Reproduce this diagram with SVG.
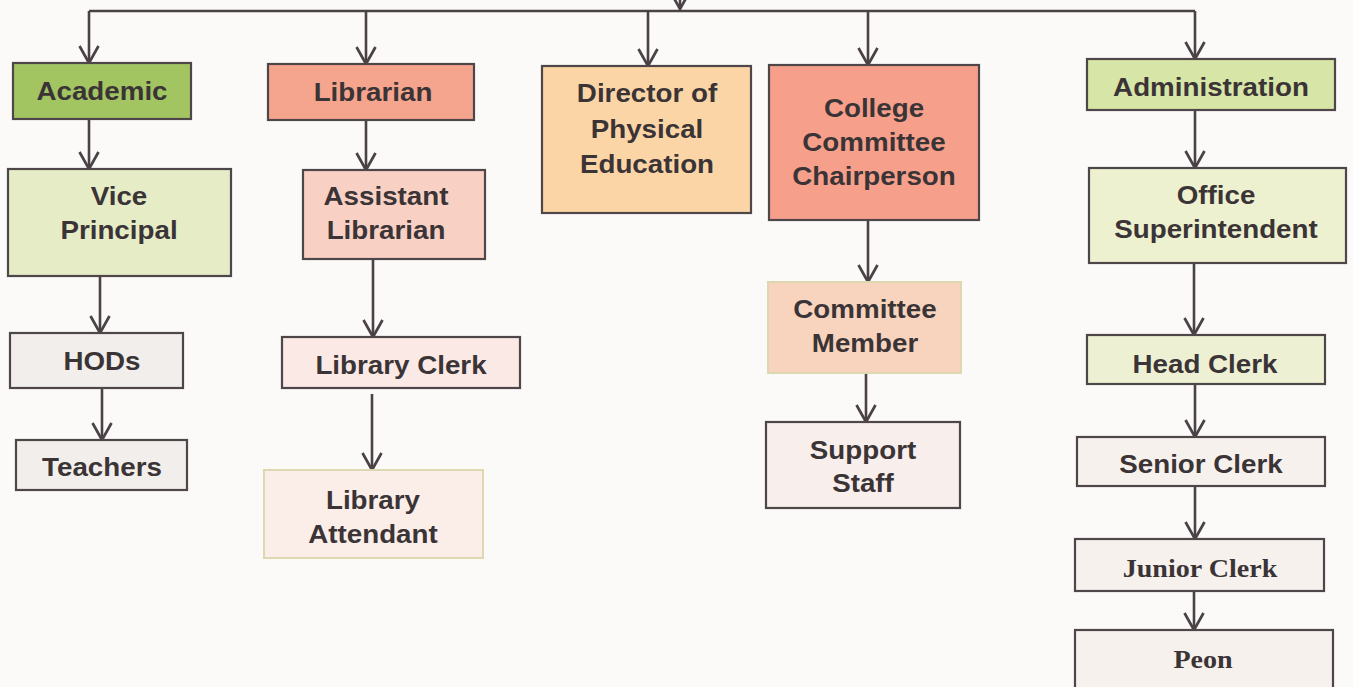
<svg xmlns="http://www.w3.org/2000/svg" width="1353" height="687" viewBox="0 0 1353 687">
<defs>
<marker id="arr" markerUnits="userSpaceOnUse" markerWidth="26" markerHeight="26" viewBox="-20 -13 22 26" refX="0" refY="0" orient="auto">
<path d="M-17,-9.5 L0,0 L-17,9.5" fill="none" stroke="#4a4245" stroke-width="2.7" stroke-linejoin="miter"/>
</marker>
</defs>
<style>
.bx{stroke:#4e4648;stroke-width:2.2}
.lt{stroke:#ddd8b0;stroke-width:2}
.t{font-family:"Liberation Sans",Arial,sans-serif;font-weight:bold;font-size:25px;fill:#3b3436;text-anchor:middle}
.s{font-family:"Liberation Serif","Times New Roman",serif;font-weight:bold;font-size:26px;fill:#3b3436;text-anchor:middle}
.c{fill:none;stroke:#4a4245;stroke-width:2.6}
.a{fill:none;stroke:#4a4245;stroke-width:2.6;marker-end:url(#arr)}
</style>
<rect width="1353" height="687" fill="#fbfaf9"/>
<g id="connectors">
<path class="c" d="M89,11 H1195"/>
<path class="a" d="M680,-10 V9"/>
<path class="a" d="M89,11 V63"/>
<path class="a" d="M366,11 V64"/>
<path class="a" d="M648,11 V66"/>
<path class="a" d="M868,11 V65"/>
<path class="a" d="M1195,11 V59"/>
<path class="a" d="M89,119 V169"/>
<path class="a" d="M366,120 V170"/>
<path class="a" d="M100,276 V333"/>
<path class="a" d="M102,388 V440"/>
<path class="a" d="M373,259 V337"/>
<path class="a" d="M372,394 V470"/>
<path class="a" d="M868,220 V282"/>
<path class="a" d="M866,373 V422"/>
<path class="a" d="M1195,110 V168"/>
<path class="a" d="M1194,263 V335"/>
<path class="a" d="M1195,384 V437"/>
<path class="a" d="M1195,486 V539"/>
<path class="a" d="M1194,591 V630"/>
</g>
<g id="academic">
<rect class="bx" x="13" y="63" width="178" height="56" fill="#a2c562"/>
<text class="t" transform="translate(102 0) scale(1.11 1)" y="100">Academic</text>
</g>
<g id="librarian">
<rect class="bx" x="268" y="64" width="206" height="56" fill="#f5a48d"/>
<text class="t" transform="translate(373 0) scale(1.11 1)" y="101">Librarian</text>
</g>
<g id="director">
<rect class="bx" x="542" y="66" width="209" height="147" fill="#fcd5a6"/>
<text class="t" transform="translate(647 0) scale(1.11 1)"><tspan x="0" y="102">Director of</tspan><tspan x="0" y="138">Physical</tspan><tspan x="0" y="173">Education</tspan></text>
</g>
<g id="college">
<rect class="bx" x="769" y="65" width="210" height="155" fill="#f6a08b"/>
<text class="t" transform="translate(874 0) scale(1.11 1)"><tspan x="0" y="117">College</tspan><tspan x="0" y="151">Committee</tspan><tspan x="0" y="185">Chairperson</tspan></text>
</g>
<g id="administration">
<rect class="bx" x="1087" y="59" width="248" height="51" fill="#d7e5a6"/>
<text class="t" transform="translate(1211 0) scale(1.11 1)" y="96">Administration</text>
</g>
<g id="vice-principal">
<rect class="bx" x="8" y="169" width="223" height="107" fill="#e5ecc6"/>
<text class="t" transform="translate(119 0) scale(1.11 1)"><tspan x="0" y="205">Vice</tspan><tspan x="0" y="239">Principal</tspan></text>
</g>
<g id="assistant-librarian">
<rect class="bx" x="303" y="170" width="182" height="89" fill="#f9d0c4"/>
<text class="t" transform="translate(386 0) scale(1.11 1)"><tspan x="0" y="205">Assistant</tspan><tspan x="0" y="239">Librarian</tspan></text>
</g>
<g id="office-superintendent">
<rect class="bx" x="1089" y="168" width="257" height="95" fill="#eef1d0"/>
<text class="t" transform="translate(1216 0) scale(1.11 1)"><tspan x="0" y="204">Office</tspan><tspan x="0" y="238">Superintendent</tspan></text>
</g>
<g id="committee-member">
<rect class="lt" x="768" y="282" width="193" height="91" fill="#f8d4be"/>
<text class="t" transform="translate(865 0) scale(1.11 1)"><tspan x="0" y="318">Committee</tspan><tspan x="0" y="352">Member</tspan></text>
</g>
<g id="support-staff">
<rect class="bx" x="766" y="422" width="194" height="86" fill="#f8eeec"/>
<text class="t" transform="translate(863 0) scale(1.11 1)"><tspan x="0" y="459">Support</tspan><tspan x="0" y="492">Staff</tspan></text>
</g>
<g id="hods">
<rect class="bx" x="10" y="333" width="173" height="55" fill="#f2eeec"/>
<text class="t" transform="translate(102 0) scale(1.11 1)" y="370">HODs</text>
</g>
<g id="teachers">
<rect class="bx" x="16" y="440" width="171" height="50" fill="#f2eeec"/>
<text class="t" transform="translate(102 0) scale(1.11 1)" y="476">Teachers</text>
</g>
<g id="library-clerk">
<rect class="bx" x="282" y="337" width="238" height="51" fill="#fae9e4"/>
<text class="t" transform="translate(401 0) scale(1.11 1)" y="374">Library Clerk</text>
</g>
<g id="library-attendant">
<rect class="lt" x="264" y="470" width="219" height="88" fill="#fbede8"/>
<text class="t" transform="translate(373 0) scale(1.11 1)"><tspan x="0" y="509">Library</tspan><tspan x="0" y="543">Attendant</tspan></text>
</g>
<g id="head-clerk">
<rect class="bx" x="1087" y="335" width="238" height="49" fill="#eef0d4"/>
<text class="t" transform="translate(1205 0) scale(1.11 1)" y="373">Head Clerk</text>
</g>
<g id="senior-clerk">
<rect class="bx" x="1077" y="437" width="248" height="49" fill="#f7f1ed"/>
<text class="t" transform="translate(1201 0) scale(1.11 1)" y="473">Senior Clerk</text>
</g>
<g id="junior-clerk">
<rect class="bx" x="1075" y="539" width="249" height="52" fill="#f7f1ed"/>
<text class="s" transform="translate(1200 0) scale(1.08 1)" y="577">Junior Clerk</text>
</g>
<g id="peon">
<rect class="bx" x="1075" y="630" width="258" height="70" fill="#f7f1ed"/>
<text class="s" transform="translate(1203 0) scale(1.08 1)" y="668">Peon</text>
</g>
</svg>
